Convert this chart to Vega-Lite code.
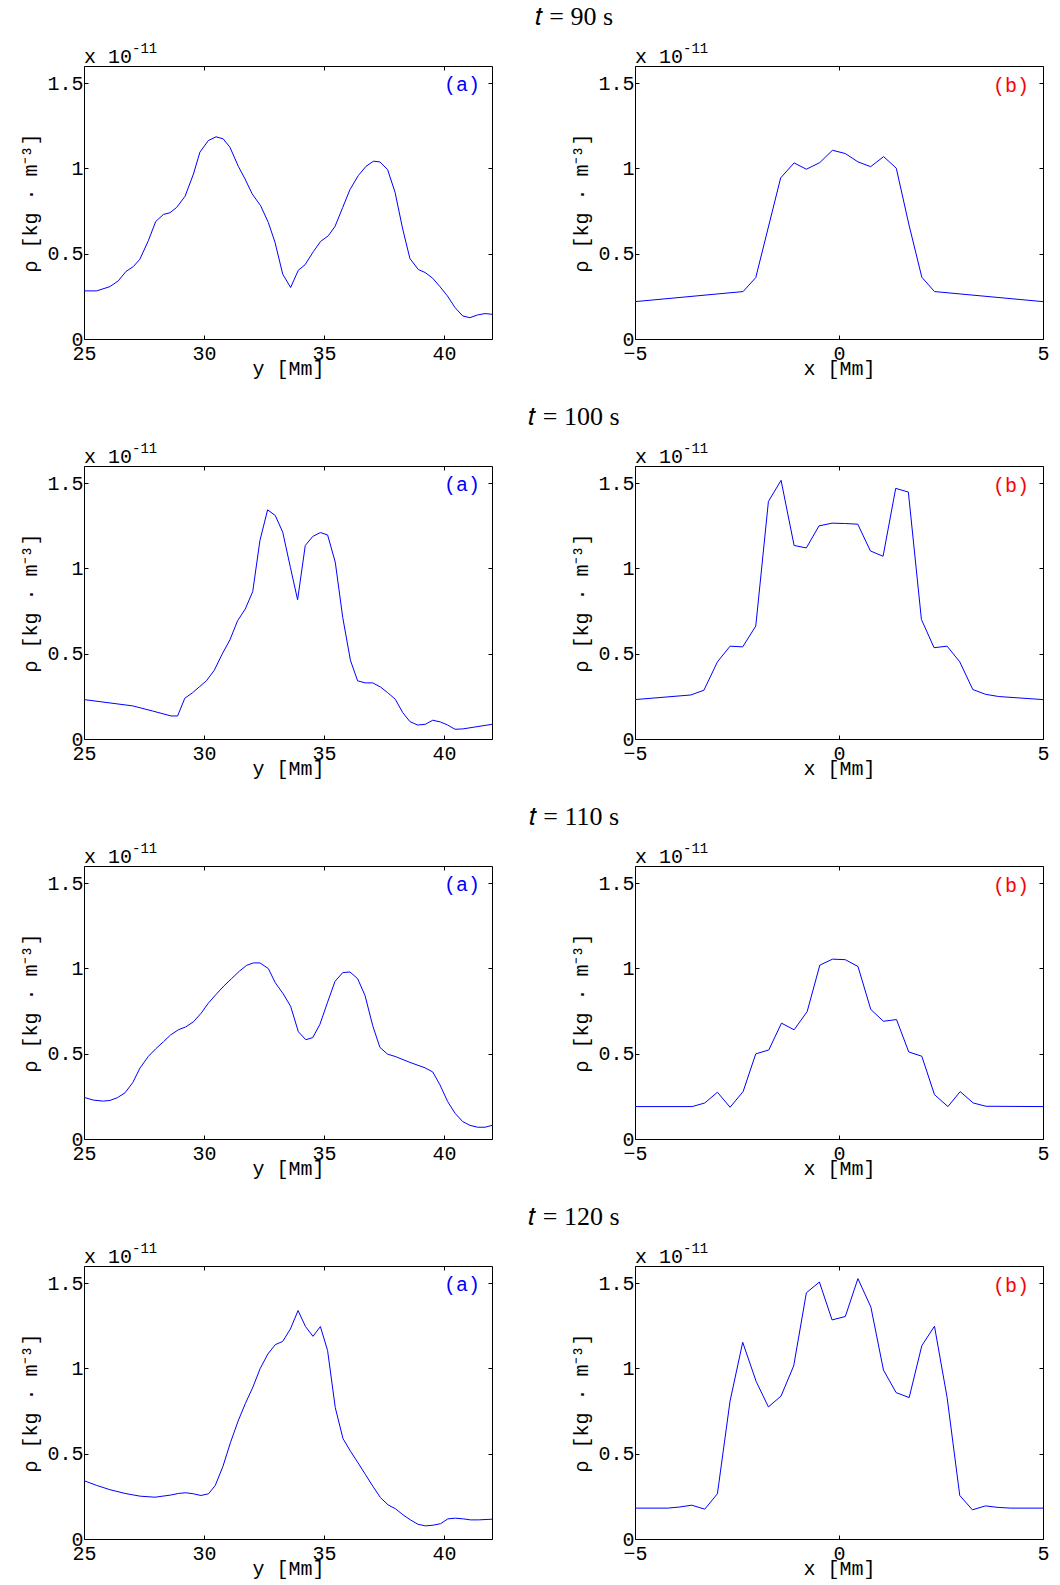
{
"$schema": "https://vega.github.io/schema/vega-lite/v6.json",
"padding": {"left": 20, "top": 3, "right": 5, "bottom": 5},
"background": "white",
"columns": 2,
"bounds": "flush",
"spacing": {"row": 127, "column": 143},
"datasets": {"profiles": [
{"t":90,"p":"a","x":25,"r":0.282},{"t":90,"p":"a","x":25.53,"r":0.282},{"t":90,"p":"a","x":26.08,"r":0.307},{"t":90,"p":"a","x":26.43,"r":0.341},{"t":90,"p":"a","x":26.75,"r":0.396},{"t":90,"p":"a","x":27.06,"r":0.425},{"t":90,"p":"a","x":27.33,"r":0.468},{"t":90,"p":"a","x":27.68,"r":0.576},{"t":90,"p":"a","x":27.99,"r":0.689},{"t":90,"p":"a","x":28.31,"r":0.73},{"t":90,"p":"a","x":28.58,"r":0.74},{"t":90,"p":"a","x":28.86,"r":0.771},{"t":90,"p":"a","x":29.21,"r":0.836},{"t":90,"p":"a","x":29.56,"r":0.967},{"t":90,"p":"a","x":29.83,"r":1.095},{"t":90,"p":"a","x":30.18,"r":1.163},{"t":90,"p":"a","x":30.5,"r":1.185},{"t":90,"p":"a","x":30.8,"r":1.173},{"t":90,"p":"a","x":31.08,"r":1.124},{"t":90,"p":"a","x":31.43,"r":1.012},{"t":90,"p":"a","x":31.71,"r":0.938},{"t":90,"p":"a","x":32.01,"r":0.85},{"t":90,"p":"a","x":32.36,"r":0.781},{"t":90,"p":"a","x":32.68,"r":0.683},{"t":90,"p":"a","x":32.96,"r":0.566},{"t":90,"p":"a","x":33.28,"r":0.38},{"t":90,"p":"a","x":33.61,"r":0.302},{"t":90,"p":"a","x":33.93,"r":0.403},{"t":90,"p":"a","x":34.21,"r":0.435},{"t":90,"p":"a","x":34.56,"r":0.513},{"t":90,"p":"a","x":34.86,"r":0.572},{"t":90,"p":"a","x":35.18,"r":0.605},{"t":90,"p":"a","x":35.46,"r":0.66},{"t":90,"p":"a","x":35.78,"r":0.771},{"t":90,"p":"a","x":36.08,"r":0.875},{"t":90,"p":"a","x":36.43,"r":0.958},{"t":90,"p":"a","x":36.75,"r":1.012},{"t":90,"p":"a","x":37.06,"r":1.042},{"t":90,"p":"a","x":37.33,"r":1.038},{"t":90,"p":"a","x":37.65,"r":0.993},{"t":90,"p":"a","x":37.96,"r":0.86},{"t":90,"p":"a","x":38.28,"r":0.644},{"t":90,"p":"a","x":38.58,"r":0.472},{"t":90,"p":"a","x":38.93,"r":0.407},{"t":90,"p":"a","x":39.21,"r":0.39},{"t":90,"p":"a","x":39.53,"r":0.356},{"t":90,"p":"a","x":39.83,"r":0.307},{"t":90,"p":"a","x":40.14,"r":0.253},{"t":90,"p":"a","x":40.46,"r":0.184},{"t":90,"p":"a","x":40.78,"r":0.135},{"t":90,"p":"a","x":41.08,"r":0.125},{"t":90,"p":"a","x":41.4,"r":0.141},{"t":90,"p":"a","x":41.71,"r":0.149},{"t":90,"p":"a","x":42,"r":0.145},
{"t":90,"p":"b","x":-5,"r":0.219},{"t":90,"p":"b","x":-2.35,"r":0.278},{"t":90,"p":"b","x":-2.04,"r":0.36},{"t":90,"p":"b","x":-1.43,"r":0.944},{"t":90,"p":"b","x":-1.1,"r":1.032},{"t":90,"p":"b","x":-0.8,"r":0.995},{"t":90,"p":"b","x":-0.47,"r":1.034},{"t":90,"p":"b","x":-0.16,"r":1.106},{"t":90,"p":"b","x":0.155,"r":1.087},{"t":90,"p":"b","x":0.465,"r":1.038},{"t":90,"p":"b","x":0.776,"r":1.01},{"t":90,"p":"b","x":1.094,"r":1.069},{"t":90,"p":"b","x":1.404,"r":1.001},{"t":90,"p":"b","x":1.71,"r":0.674},{"t":90,"p":"b","x":2.03,"r":0.362},{"t":90,"p":"b","x":2.34,"r":0.278},{"t":90,"p":"b","x":5,"r":0.219},
{"t":100,"p":"a","x":25,"r":0.231},{"t":100,"p":"a","x":27.03,"r":0.194},{"t":100,"p":"a","x":27.86,"r":0.164},{"t":100,"p":"a","x":28.63,"r":0.135},{"t":100,"p":"a","x":28.9,"r":0.135},{"t":100,"p":"a","x":29.2,"r":0.239},{"t":100,"p":"a","x":29.53,"r":0.272},{"t":100,"p":"a","x":29.8,"r":0.305},{"t":100,"p":"a","x":30.1,"r":0.341},{"t":100,"p":"a","x":30.43,"r":0.403},{"t":100,"p":"a","x":30.74,"r":0.493},{"t":100,"p":"a","x":31.08,"r":0.581},{"t":100,"p":"a","x":31.4,"r":0.693},{"t":100,"p":"a","x":31.72,"r":0.762},{"t":100,"p":"a","x":32.03,"r":0.864},{"t":100,"p":"a","x":32.33,"r":1.163},{"t":100,"p":"a","x":32.65,"r":1.343},{"t":100,"p":"a","x":32.97,"r":1.31},{"t":100,"p":"a","x":33.28,"r":1.212},{"t":100,"p":"a","x":33.6,"r":1.006},{"t":100,"p":"a","x":33.9,"r":0.816},{"t":100,"p":"a","x":34.22,"r":1.134},{"t":100,"p":"a","x":34.53,"r":1.187},{"t":100,"p":"a","x":34.85,"r":1.21},{"t":100,"p":"a","x":35.15,"r":1.196},{"t":100,"p":"a","x":35.47,"r":1.036},{"t":100,"p":"a","x":35.78,"r":0.713},{"t":100,"p":"a","x":36.1,"r":0.462},{"t":100,"p":"a","x":36.4,"r":0.341},{"t":100,"p":"a","x":36.72,"r":0.329},{"t":100,"p":"a","x":37.03,"r":0.329},{"t":100,"p":"a","x":37.35,"r":0.305},{"t":100,"p":"a","x":37.65,"r":0.272},{"t":100,"p":"a","x":37.97,"r":0.233},{"t":100,"p":"a","x":38.28,"r":0.155},{"t":100,"p":"a","x":38.58,"r":0.102},{"t":100,"p":"a","x":38.9,"r":0.082},{"t":100,"p":"a","x":39.22,"r":0.086},{"t":100,"p":"a","x":39.53,"r":0.11},{"t":100,"p":"a","x":39.85,"r":0.1},{"t":100,"p":"a","x":40.15,"r":0.082},{"t":100,"p":"a","x":40.46,"r":0.057},{"t":100,"p":"a","x":40.78,"r":0.059},{"t":100,"p":"a","x":42,"r":0.086},
{"t":100,"p":"b","x":-5,"r":0.231},{"t":100,"p":"b","x":-3.63,"r":0.258},{"t":100,"p":"b","x":-3.31,"r":0.286},{"t":100,"p":"b","x":-2.98,"r":0.452},{"t":100,"p":"b","x":-2.67,"r":0.544},{"t":100,"p":"b","x":-2.36,"r":0.54},{"t":100,"p":"b","x":-2.04,"r":0.662},{"t":100,"p":"b","x":-1.73,"r":1.392},{"t":100,"p":"b","x":-1.42,"r":1.516},{"t":100,"p":"b","x":-1.1,"r":1.134},{"t":100,"p":"b","x":-0.8,"r":1.12},{"t":100,"p":"b","x":-0.49,"r":1.249},{"t":100,"p":"b","x":-0.17,"r":1.265},{"t":100,"p":"b","x":0.14,"r":1.263},{"t":100,"p":"b","x":0.46,"r":1.259},{"t":100,"p":"b","x":0.77,"r":1.102},{"t":100,"p":"b","x":1.08,"r":1.071},{"t":100,"p":"b","x":1.39,"r":1.469},{"t":100,"p":"b","x":1.7,"r":1.447},{"t":100,"p":"b","x":2.02,"r":0.701},{"t":100,"p":"b","x":2.33,"r":0.535},{"t":100,"p":"b","x":2.65,"r":0.544},{"t":100,"p":"b","x":2.96,"r":0.452},{"t":100,"p":"b","x":3.28,"r":0.29},{"t":100,"p":"b","x":3.59,"r":0.262},{"t":100,"p":"b","x":3.91,"r":0.249},{"t":100,"p":"b","x":5,"r":0.231},
{"t":110,"p":"a","x":25,"r":0.244},{"t":110,"p":"a","x":25.39,"r":0.228},{"t":110,"p":"a","x":25.81,"r":0.222},{"t":110,"p":"a","x":26.08,"r":0.226},{"t":110,"p":"a","x":26.39,"r":0.242},{"t":110,"p":"a","x":26.71,"r":0.271},{"t":110,"p":"a","x":27.03,"r":0.33},{"t":110,"p":"a","x":27.33,"r":0.415},{"t":110,"p":"a","x":27.68,"r":0.484},{"t":110,"p":"a","x":27.99,"r":0.529},{"t":110,"p":"a","x":28.31,"r":0.57},{"t":110,"p":"a","x":28.61,"r":0.61},{"t":110,"p":"a","x":28.93,"r":0.64},{"t":110,"p":"a","x":29.24,"r":0.657},{"t":110,"p":"a","x":29.56,"r":0.687},{"t":110,"p":"a","x":29.88,"r":0.737},{"t":110,"p":"a","x":30.18,"r":0.796},{"t":110,"p":"a","x":30.5,"r":0.847},{"t":110,"p":"a","x":30.83,"r":0.897},{"t":110,"p":"a","x":31.15,"r":0.94},{"t":110,"p":"a","x":31.47,"r":0.983},{"t":110,"p":"a","x":31.78,"r":1.018},{"t":110,"p":"a","x":32.06,"r":1.032},{"t":110,"p":"a","x":32.33,"r":1.032},{"t":110,"p":"a","x":32.68,"r":0.999},{"t":110,"p":"a","x":32.97,"r":0.916},{"t":110,"p":"a","x":33.3,"r":0.851},{"t":110,"p":"a","x":33.61,"r":0.778},{"t":110,"p":"a","x":33.93,"r":0.629},{"t":110,"p":"a","x":34.24,"r":0.582},{"t":110,"p":"a","x":34.53,"r":0.594},{"t":110,"p":"a","x":34.83,"r":0.672},{"t":110,"p":"a","x":35.15,"r":0.802},{"t":110,"p":"a","x":35.46,"r":0.924},{"t":110,"p":"a","x":35.78,"r":0.975},{"t":110,"p":"a","x":36.08,"r":0.979},{"t":110,"p":"a","x":36.4,"r":0.94},{"t":110,"p":"a","x":36.71,"r":0.841},{"t":110,"p":"a","x":37.03,"r":0.664},{"t":110,"p":"a","x":37.33,"r":0.537},{"t":110,"p":"a","x":37.65,"r":0.497},{"t":110,"p":"a","x":37.96,"r":0.484},{"t":110,"p":"a","x":38.58,"r":0.449},{"t":110,"p":"a","x":39.21,"r":0.417},{"t":110,"p":"a","x":39.53,"r":0.393},{"t":110,"p":"a","x":39.83,"r":0.318},{"t":110,"p":"a","x":40.15,"r":0.22},{"t":110,"p":"a","x":40.46,"r":0.151},{"t":110,"p":"a","x":40.78,"r":0.102},{"t":110,"p":"a","x":41.08,"r":0.08},{"t":110,"p":"a","x":41.4,"r":0.069},{"t":110,"p":"a","x":41.71,"r":0.069},{"t":110,"p":"a","x":42,"r":0.08},
{"t":110,"p":"b","x":-5,"r":0.19},{"t":110,"p":"b","x":-3.6,"r":0.19},{"t":110,"p":"b","x":-3.29,"r":0.211},{"t":110,"p":"b","x":-2.98,"r":0.274},{"t":110,"p":"b","x":-2.67,"r":0.186},{"t":110,"p":"b","x":-2.35,"r":0.278},{"t":110,"p":"b","x":-2.04,"r":0.499},{"t":110,"p":"b","x":-1.72,"r":0.522},{"t":110,"p":"b","x":-1.41,"r":0.679},{"t":110,"p":"b","x":-1.1,"r":0.64},{"t":110,"p":"b","x":-0.78,"r":0.747},{"t":110,"p":"b","x":-0.47,"r":1.019},{"t":110,"p":"b","x":-0.16,"r":1.054},{"t":110,"p":"b","x":0.155,"r":1.051},{"t":110,"p":"b","x":0.465,"r":1.011},{"t":110,"p":"b","x":0.78,"r":0.759},{"t":110,"p":"b","x":1.09,"r":0.69},{"t":110,"p":"b","x":1.41,"r":0.7},{"t":110,"p":"b","x":1.71,"r":0.51},{"t":110,"p":"b","x":2.03,"r":0.485},{"t":110,"p":"b","x":2.34,"r":0.26},{"t":110,"p":"b","x":2.67,"r":0.19},{"t":110,"p":"b","x":2.97,"r":0.278},{"t":110,"p":"b","x":3.29,"r":0.211},{"t":110,"p":"b","x":3.6,"r":0.192},{"t":110,"p":"b","x":5,"r":0.19},
{"t":120,"p":"a","x":25,"r":0.342},{"t":120,"p":"a","x":25.53,"r":0.314},{"t":120,"p":"a","x":26.08,"r":0.289},{"t":120,"p":"a","x":26.71,"r":0.267},{"t":120,"p":"a","x":27.34,"r":0.251},{"t":120,"p":"a","x":27.96,"r":0.245},{"t":120,"p":"a","x":28.59,"r":0.257},{"t":120,"p":"a","x":28.94,"r":0.267},{"t":120,"p":"a","x":29.24,"r":0.271},{"t":120,"p":"a","x":29.56,"r":0.265},{"t":120,"p":"a","x":29.87,"r":0.255},{"t":120,"p":"a","x":30.19,"r":0.265},{"t":120,"p":"a","x":30.47,"r":0.314},{"t":120,"p":"a","x":30.79,"r":0.426},{"t":120,"p":"a","x":31.1,"r":0.564},{"t":120,"p":"a","x":31.42,"r":0.691},{"t":120,"p":"a","x":31.72,"r":0.793},{"t":120,"p":"a","x":32.04,"r":0.891},{"t":120,"p":"a","x":32.34,"r":0.999},{"t":120,"p":"a","x":32.66,"r":1.084},{"t":120,"p":"a","x":32.97,"r":1.139},{"t":120,"p":"a","x":33.28,"r":1.158},{"t":120,"p":"a","x":33.6,"r":1.231},{"t":120,"p":"a","x":33.92,"r":1.339},{"t":120,"p":"a","x":34.23,"r":1.245},{"t":120,"p":"a","x":34.54,"r":1.188},{"t":120,"p":"a","x":34.85,"r":1.245},{"t":120,"p":"a","x":35.15,"r":1.104},{"t":120,"p":"a","x":35.47,"r":0.77},{"t":120,"p":"a","x":35.79,"r":0.589},{"t":120,"p":"a","x":36.1,"r":0.515},{"t":120,"p":"a","x":36.42,"r":0.446},{"t":120,"p":"a","x":36.73,"r":0.377},{"t":120,"p":"a","x":37.04,"r":0.308},{"t":120,"p":"a","x":37.35,"r":0.243},{"t":120,"p":"a","x":37.67,"r":0.2},{"t":120,"p":"a","x":37.98,"r":0.177},{"t":120,"p":"a","x":38.3,"r":0.141},{"t":120,"p":"a","x":38.6,"r":0.112},{"t":120,"p":"a","x":38.92,"r":0.086},{"t":120,"p":"a","x":39.23,"r":0.077},{"t":120,"p":"a","x":39.55,"r":0.081},{"t":120,"p":"a","x":39.86,"r":0.09},{"t":120,"p":"a","x":40.16,"r":0.118},{"t":120,"p":"a","x":40.48,"r":0.122},{"t":120,"p":"a","x":40.8,"r":0.118},{"t":120,"p":"a","x":41.11,"r":0.112},{"t":120,"p":"a","x":41.43,"r":0.112},{"t":120,"p":"a","x":42,"r":0.116},
{"t":120,"p":"b","x":-5,"r":0.181},{"t":120,"p":"b","x":-4.2,"r":0.181},{"t":120,"p":"b","x":-3.92,"r":0.187},{"t":120,"p":"b","x":-3.61,"r":0.198},{"t":120,"p":"b","x":-3.29,"r":0.175},{"t":120,"p":"b","x":-2.98,"r":0.265},{"t":120,"p":"b","x":-2.67,"r":0.809},{"t":120,"p":"b","x":-2.36,"r":1.153},{"t":120,"p":"b","x":-2.03,"r":0.923},{"t":120,"p":"b","x":-1.73,"r":0.774},{"t":120,"p":"b","x":-1.42,"r":0.838},{"t":120,"p":"b","x":-1.11,"r":1.015},{"t":120,"p":"b","x":-0.8,"r":1.443},{"t":120,"p":"b","x":-0.48,"r":1.506},{"t":120,"p":"b","x":-0.17,"r":1.284},{"t":120,"p":"b","x":0.155,"r":1.304},{"t":120,"p":"b","x":0.464,"r":1.526},{"t":120,"p":"b","x":0.782,"r":1.359},{"t":120,"p":"b","x":1.09,"r":0.99},{"t":120,"p":"b","x":1.4,"r":0.858},{"t":120,"p":"b","x":1.72,"r":0.829},{"t":120,"p":"b","x":2.03,"r":1.133},{"t":120,"p":"b","x":2.34,"r":1.247},{"t":120,"p":"b","x":2.65,"r":0.829},{"t":120,"p":"b","x":2.96,"r":0.255},{"t":120,"p":"b","x":3.27,"r":0.171},{"t":120,"p":"b","x":3.59,"r":0.194},{"t":120,"p":"b","x":3.9,"r":0.185},{"t":120,"p":"b","x":4.21,"r":0.181},{"t":120,"p":"b","x":5,"r":0.181}
]},
"concat": [
{"title": {"text": "𝑡 = 90 s", "font": "Liberation Serif", "fontSize": 26, "fontWeight": "normal", "color": "#000000", "anchor": "middle", "frame": "group", "dx": 286, "offset": -9, "baseline": "alphabetic"},
 "width": 408, "height": 273,
 "layer": [
  {"data": {"name": "profiles"}, "transform": [{"filter": "datum.t == 90 && datum.p == 'a'"}], "mark": {"type": "line", "color": "#0000ff", "strokeWidth": 1},
   "encoding": {"x": {"field": "x", "type": "quantitative", "scale": {"domain": [25, 42], "nice": false, "zero": false}, "axis": {"values": [25, 30, 35, 40], "title": "y [Mm]"}},
                "y": {"field": "r", "type": "quantitative", "scale": {"domain": [0, 1.6], "nice": false, "zero": false}, "axis": {"values": [0, 0.5, 1, 1.5], "format": "~g", "title": "ρ [kg · m⁻³]"}}}},
  {"data": {"values": [{}]}, "mark": {"type": "text", "text": "x 10", "align": "left", "baseline": "alphabetic", "dy": -3, "fontSize": 20},
   "encoding": {"x": {"datum": 25, "type": "quantitative", "axis": {"orient": "top", "labels": false, "title": null, "values": [25, 30, 35, 40]}},
                "y": {"datum": 1.6, "type": "quantitative", "axis": {"orient": "right", "labels": false, "title": null, "values": [0, 0.5, 1, 1.5]}}}},
  {"data": {"values": [{}]}, "mark": {"type": "text", "text": "-11", "align": "left", "baseline": "alphabetic", "dx": 48, "dy": -13, "fontSize": 14},
   "encoding": {"x": {"datum": 25, "type": "quantitative", "axis": null}, "y": {"datum": 1.6, "type": "quantitative", "axis": null}}},
  {"data": {"values": [{}]}, "mark": {"type": "text", "text": "(a)", "align": "right", "baseline": "middle", "dx": -12, "fontSize": 20, "color": "#0000ff"},
   "encoding": {"x": {"datum": 42, "type": "quantitative", "axis": null}, "y": {"datum": 1.49, "type": "quantitative", "axis": null}}}
 ],
 "resolve": {"axis": {"x": "independent", "y": "independent"}}},
{"width": 408, "height": 273,
 "layer": [
  {"data": {"name": "profiles"}, "transform": [{"filter": "datum.t == 90 && datum.p == 'b'"}], "mark": {"type": "line", "color": "#0000ff", "strokeWidth": 1},
   "encoding": {"x": {"field": "x", "type": "quantitative", "scale": {"domain": [-5, 5], "nice": false, "zero": false}, "axis": {"values": [-5, 0, 5], "title": "x [Mm]"}},
                "y": {"field": "r", "type": "quantitative", "scale": {"domain": [0, 1.6], "nice": false, "zero": false}, "axis": {"values": [0, 0.5, 1, 1.5], "format": "~g", "title": "ρ [kg · m⁻³]"}}}},
  {"data": {"values": [{}]}, "mark": {"type": "text", "text": "x 10", "align": "left", "baseline": "alphabetic", "dy": -3, "fontSize": 20},
   "encoding": {"x": {"datum": -5, "type": "quantitative", "axis": {"orient": "top", "labels": false, "title": null, "values": [-5, 0, 5]}},
                "y": {"datum": 1.6, "type": "quantitative", "axis": {"orient": "right", "labels": false, "title": null, "values": [0, 0.5, 1, 1.5]}}}},
  {"data": {"values": [{}]}, "mark": {"type": "text", "text": "-11", "align": "left", "baseline": "alphabetic", "dx": 48, "dy": -13, "fontSize": 14},
   "encoding": {"x": {"datum": -5, "type": "quantitative", "axis": null}, "y": {"datum": 1.6, "type": "quantitative", "axis": null}}},
  {"data": {"values": [{}]}, "mark": {"type": "text", "text": "(b)", "align": "right", "baseline": "middle", "dx": -14, "fontSize": 20, "color": "#ff0000"},
   "encoding": {"x": {"datum": 5, "type": "quantitative", "axis": null}, "y": {"datum": 1.48, "type": "quantitative", "axis": null}}}
 ],
 "resolve": {"axis": {"x": "independent", "y": "independent"}}},
{"title": {"text": "𝑡 = 100 s", "font": "Liberation Serif", "fontSize": 26, "fontWeight": "normal", "color": "#000000", "anchor": "middle", "frame": "group", "dx": 286, "offset": -9, "baseline": "alphabetic"},
 "width": 408, "height": 273,
 "layer": [
  {"data": {"name": "profiles"}, "transform": [{"filter": "datum.t == 100 && datum.p == 'a'"}], "mark": {"type": "line", "color": "#0000ff", "strokeWidth": 1},
   "encoding": {"x": {"field": "x", "type": "quantitative", "scale": {"domain": [25, 42], "nice": false, "zero": false}, "axis": {"values": [25, 30, 35, 40], "title": "y [Mm]"}},
                "y": {"field": "r", "type": "quantitative", "scale": {"domain": [0, 1.6], "nice": false, "zero": false}, "axis": {"values": [0, 0.5, 1, 1.5], "format": "~g", "title": "ρ [kg · m⁻³]"}}}},
  {"data": {"values": [{}]}, "mark": {"type": "text", "text": "x 10", "align": "left", "baseline": "alphabetic", "dy": -3, "fontSize": 20},
   "encoding": {"x": {"datum": 25, "type": "quantitative", "axis": {"orient": "top", "labels": false, "title": null, "values": [25, 30, 35, 40]}},
                "y": {"datum": 1.6, "type": "quantitative", "axis": {"orient": "right", "labels": false, "title": null, "values": [0, 0.5, 1, 1.5]}}}},
  {"data": {"values": [{}]}, "mark": {"type": "text", "text": "-11", "align": "left", "baseline": "alphabetic", "dx": 48, "dy": -13, "fontSize": 14},
   "encoding": {"x": {"datum": 25, "type": "quantitative", "axis": null}, "y": {"datum": 1.6, "type": "quantitative", "axis": null}}},
  {"data": {"values": [{}]}, "mark": {"type": "text", "text": "(a)", "align": "right", "baseline": "middle", "dx": -12, "fontSize": 20, "color": "#0000ff"},
   "encoding": {"x": {"datum": 42, "type": "quantitative", "axis": null}, "y": {"datum": 1.49, "type": "quantitative", "axis": null}}}
 ],
 "resolve": {"axis": {"x": "independent", "y": "independent"}}},
{"width": 408, "height": 273,
 "layer": [
  {"data": {"name": "profiles"}, "transform": [{"filter": "datum.t == 100 && datum.p == 'b'"}], "mark": {"type": "line", "color": "#0000ff", "strokeWidth": 1},
   "encoding": {"x": {"field": "x", "type": "quantitative", "scale": {"domain": [-5, 5], "nice": false, "zero": false}, "axis": {"values": [-5, 0, 5], "title": "x [Mm]"}},
                "y": {"field": "r", "type": "quantitative", "scale": {"domain": [0, 1.6], "nice": false, "zero": false}, "axis": {"values": [0, 0.5, 1, 1.5], "format": "~g", "title": "ρ [kg · m⁻³]"}}}},
  {"data": {"values": [{}]}, "mark": {"type": "text", "text": "x 10", "align": "left", "baseline": "alphabetic", "dy": -3, "fontSize": 20},
   "encoding": {"x": {"datum": -5, "type": "quantitative", "axis": {"orient": "top", "labels": false, "title": null, "values": [-5, 0, 5]}},
                "y": {"datum": 1.6, "type": "quantitative", "axis": {"orient": "right", "labels": false, "title": null, "values": [0, 0.5, 1, 1.5]}}}},
  {"data": {"values": [{}]}, "mark": {"type": "text", "text": "-11", "align": "left", "baseline": "alphabetic", "dx": 48, "dy": -13, "fontSize": 14},
   "encoding": {"x": {"datum": -5, "type": "quantitative", "axis": null}, "y": {"datum": 1.6, "type": "quantitative", "axis": null}}},
  {"data": {"values": [{}]}, "mark": {"type": "text", "text": "(b)", "align": "right", "baseline": "middle", "dx": -14, "fontSize": 20, "color": "#ff0000"},
   "encoding": {"x": {"datum": 5, "type": "quantitative", "axis": null}, "y": {"datum": 1.48, "type": "quantitative", "axis": null}}}
 ],
 "resolve": {"axis": {"x": "independent", "y": "independent"}}},
{"title": {"text": "𝑡 = 110 s", "font": "Liberation Serif", "fontSize": 26, "fontWeight": "normal", "color": "#000000", "anchor": "middle", "frame": "group", "dx": 286, "offset": -9, "baseline": "alphabetic"},
 "width": 408, "height": 273,
 "layer": [
  {"data": {"name": "profiles"}, "transform": [{"filter": "datum.t == 110 && datum.p == 'a'"}], "mark": {"type": "line", "color": "#0000ff", "strokeWidth": 1},
   "encoding": {"x": {"field": "x", "type": "quantitative", "scale": {"domain": [25, 42], "nice": false, "zero": false}, "axis": {"values": [25, 30, 35, 40], "title": "y [Mm]"}},
                "y": {"field": "r", "type": "quantitative", "scale": {"domain": [0, 1.6], "nice": false, "zero": false}, "axis": {"values": [0, 0.5, 1, 1.5], "format": "~g", "title": "ρ [kg · m⁻³]"}}}},
  {"data": {"values": [{}]}, "mark": {"type": "text", "text": "x 10", "align": "left", "baseline": "alphabetic", "dy": -3, "fontSize": 20},
   "encoding": {"x": {"datum": 25, "type": "quantitative", "axis": {"orient": "top", "labels": false, "title": null, "values": [25, 30, 35, 40]}},
                "y": {"datum": 1.6, "type": "quantitative", "axis": {"orient": "right", "labels": false, "title": null, "values": [0, 0.5, 1, 1.5]}}}},
  {"data": {"values": [{}]}, "mark": {"type": "text", "text": "-11", "align": "left", "baseline": "alphabetic", "dx": 48, "dy": -13, "fontSize": 14},
   "encoding": {"x": {"datum": 25, "type": "quantitative", "axis": null}, "y": {"datum": 1.6, "type": "quantitative", "axis": null}}},
  {"data": {"values": [{}]}, "mark": {"type": "text", "text": "(a)", "align": "right", "baseline": "middle", "dx": -12, "fontSize": 20, "color": "#0000ff"},
   "encoding": {"x": {"datum": 42, "type": "quantitative", "axis": null}, "y": {"datum": 1.49, "type": "quantitative", "axis": null}}}
 ],
 "resolve": {"axis": {"x": "independent", "y": "independent"}}},
{"width": 408, "height": 273,
 "layer": [
  {"data": {"name": "profiles"}, "transform": [{"filter": "datum.t == 110 && datum.p == 'b'"}], "mark": {"type": "line", "color": "#0000ff", "strokeWidth": 1},
   "encoding": {"x": {"field": "x", "type": "quantitative", "scale": {"domain": [-5, 5], "nice": false, "zero": false}, "axis": {"values": [-5, 0, 5], "title": "x [Mm]"}},
                "y": {"field": "r", "type": "quantitative", "scale": {"domain": [0, 1.6], "nice": false, "zero": false}, "axis": {"values": [0, 0.5, 1, 1.5], "format": "~g", "title": "ρ [kg · m⁻³]"}}}},
  {"data": {"values": [{}]}, "mark": {"type": "text", "text": "x 10", "align": "left", "baseline": "alphabetic", "dy": -3, "fontSize": 20},
   "encoding": {"x": {"datum": -5, "type": "quantitative", "axis": {"orient": "top", "labels": false, "title": null, "values": [-5, 0, 5]}},
                "y": {"datum": 1.6, "type": "quantitative", "axis": {"orient": "right", "labels": false, "title": null, "values": [0, 0.5, 1, 1.5]}}}},
  {"data": {"values": [{}]}, "mark": {"type": "text", "text": "-11", "align": "left", "baseline": "alphabetic", "dx": 48, "dy": -13, "fontSize": 14},
   "encoding": {"x": {"datum": -5, "type": "quantitative", "axis": null}, "y": {"datum": 1.6, "type": "quantitative", "axis": null}}},
  {"data": {"values": [{}]}, "mark": {"type": "text", "text": "(b)", "align": "right", "baseline": "middle", "dx": -14, "fontSize": 20, "color": "#ff0000"},
   "encoding": {"x": {"datum": 5, "type": "quantitative", "axis": null}, "y": {"datum": 1.48, "type": "quantitative", "axis": null}}}
 ],
 "resolve": {"axis": {"x": "independent", "y": "independent"}}},
{"title": {"text": "𝑡 = 120 s", "font": "Liberation Serif", "fontSize": 26, "fontWeight": "normal", "color": "#000000", "anchor": "middle", "frame": "group", "dx": 286, "offset": -9, "baseline": "alphabetic"},
 "width": 408, "height": 273,
 "layer": [
  {"data": {"name": "profiles"}, "transform": [{"filter": "datum.t == 120 && datum.p == 'a'"}], "mark": {"type": "line", "color": "#0000ff", "strokeWidth": 1},
   "encoding": {"x": {"field": "x", "type": "quantitative", "scale": {"domain": [25, 42], "nice": false, "zero": false}, "axis": {"values": [25, 30, 35, 40], "title": "y [Mm]"}},
                "y": {"field": "r", "type": "quantitative", "scale": {"domain": [0, 1.6], "nice": false, "zero": false}, "axis": {"values": [0, 0.5, 1, 1.5], "format": "~g", "title": "ρ [kg · m⁻³]"}}}},
  {"data": {"values": [{}]}, "mark": {"type": "text", "text": "x 10", "align": "left", "baseline": "alphabetic", "dy": -3, "fontSize": 20},
   "encoding": {"x": {"datum": 25, "type": "quantitative", "axis": {"orient": "top", "labels": false, "title": null, "values": [25, 30, 35, 40]}},
                "y": {"datum": 1.6, "type": "quantitative", "axis": {"orient": "right", "labels": false, "title": null, "values": [0, 0.5, 1, 1.5]}}}},
  {"data": {"values": [{}]}, "mark": {"type": "text", "text": "-11", "align": "left", "baseline": "alphabetic", "dx": 48, "dy": -13, "fontSize": 14},
   "encoding": {"x": {"datum": 25, "type": "quantitative", "axis": null}, "y": {"datum": 1.6, "type": "quantitative", "axis": null}}},
  {"data": {"values": [{}]}, "mark": {"type": "text", "text": "(a)", "align": "right", "baseline": "middle", "dx": -12, "fontSize": 20, "color": "#0000ff"},
   "encoding": {"x": {"datum": 42, "type": "quantitative", "axis": null}, "y": {"datum": 1.49, "type": "quantitative", "axis": null}}}
 ],
 "resolve": {"axis": {"x": "independent", "y": "independent"}}},
{"width": 408, "height": 273,
 "layer": [
  {"data": {"name": "profiles"}, "transform": [{"filter": "datum.t == 120 && datum.p == 'b'"}], "mark": {"type": "line", "color": "#0000ff", "strokeWidth": 1},
   "encoding": {"x": {"field": "x", "type": "quantitative", "scale": {"domain": [-5, 5], "nice": false, "zero": false}, "axis": {"values": [-5, 0, 5], "title": "x [Mm]"}},
                "y": {"field": "r", "type": "quantitative", "scale": {"domain": [0, 1.6], "nice": false, "zero": false}, "axis": {"values": [0, 0.5, 1, 1.5], "format": "~g", "title": "ρ [kg · m⁻³]"}}}},
  {"data": {"values": [{}]}, "mark": {"type": "text", "text": "x 10", "align": "left", "baseline": "alphabetic", "dy": -3, "fontSize": 20},
   "encoding": {"x": {"datum": -5, "type": "quantitative", "axis": {"orient": "top", "labels": false, "title": null, "values": [-5, 0, 5]}},
                "y": {"datum": 1.6, "type": "quantitative", "axis": {"orient": "right", "labels": false, "title": null, "values": [0, 0.5, 1, 1.5]}}}},
  {"data": {"values": [{}]}, "mark": {"type": "text", "text": "-11", "align": "left", "baseline": "alphabetic", "dx": 48, "dy": -13, "fontSize": 14},
   "encoding": {"x": {"datum": -5, "type": "quantitative", "axis": null}, "y": {"datum": 1.6, "type": "quantitative", "axis": null}}},
  {"data": {"values": [{}]}, "mark": {"type": "text", "text": "(b)", "align": "right", "baseline": "middle", "dx": -14, "fontSize": 20, "color": "#ff0000"},
   "encoding": {"x": {"datum": 5, "type": "quantitative", "axis": null}, "y": {"datum": 1.48, "type": "quantitative", "axis": null}}}
 ],
 "resolve": {"axis": {"x": "independent", "y": "independent"}}}
],
"config": {
  "view": {"stroke": "#000000", "strokeWidth": 1},
  "text": {"font": "Liberation Mono", "color": "#000000"},
  "axis": {"domain": false, "grid": false, "ticks": true, "tickColor": "#000000", "tickSize": -4, "tickWidth": 1,
           "labelFont": "Liberation Mono", "labelFontSize": 20, "labelColor": "#000000", "labelFlush": false, "labelOverlap": false,
           "titleFont": "Liberation Mono", "titleFontSize": 20, "titleFontWeight": "normal", "titleColor": "#000000"},
  "axisX": {"labelPadding": 8.5, "titlePadding": -5},
  "axisY": {"labelPadding": 5, "titlePadding": 6}
}
}
